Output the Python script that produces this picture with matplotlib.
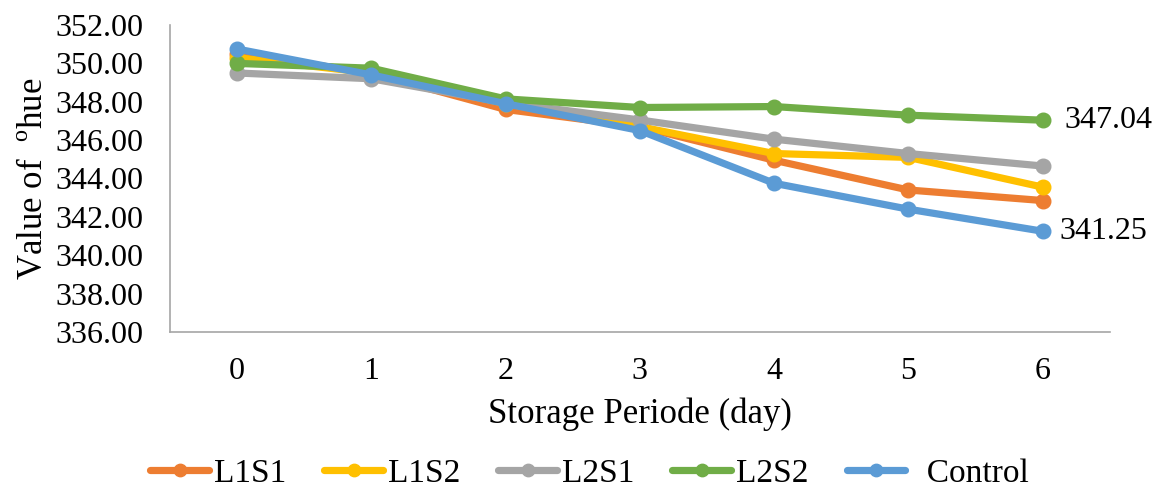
import matplotlib
matplotlib.use("Agg")
import matplotlib.pyplot as plt

plt.rcParams['font.family'] = ['Liberation Serif', 'DejaVu Serif']
plt.rcParams['mathtext.fontset'] = 'custom'
plt.rcParams['mathtext.rm'] = 'Liberation Serif'

days = [0, 1, 2, 3, 4, 5, 6]
l1s1 = [350.50, 349.50, 347.60, 346.70, 344.95, 343.40, 342.85]
l1s2 = [350.30, 349.50, 347.90, 346.70, 345.30, 345.10, 343.55]
l2s1 = [349.50, 349.20, 347.95, 347.05, 346.05, 345.30, 344.65]
l2s2 = [350.00, 349.75, 348.15, 347.70, 347.75, 347.30, 347.04]
control = [350.75, 349.40, 347.90, 346.50, 343.75, 342.40, 341.25]

series = [
    ("L1S1", l1s1, "#ED7D31"),
    ("L1S2", l1s2, "#FFC000"),
    ("L2S1", l2s1, "#A5A5A5"),
    ("L2S2", l2s2, "#70AD47"),
    ("  Control", control, "#5B9BD5"),
]

fig = plt.figure(figsize=(11.56, 4.91), dpi=100)
ax = fig.add_axes([0.147, 0.324, 0.813, 0.625])

for name, vals, col in series:
    ax.plot(days, vals, color=col, lw=5.2, marker='o', markersize=10.5,
            label=name, solid_capstyle='round')

ax.set_xlim(-0.5, 6.5)
ax.set_ylim(336, 352)
ax.set_yticks(range(336, 353, 2))
ax.set_yticklabels(["%.2f" % v for v in range(336, 353, 2)])
ax.set_xticks(days)
ax.tick_params(axis='both', length=0, labelsize=23)
ax.tick_params(axis='x', pad=18)
ax.tick_params(axis='y', pad=19)

for side in ['top', 'right']:
    ax.spines[side].set_visible(False)
for side in ['left', 'bottom']:
    ax.spines[side].set_color('#a6a6a6')
    ax.spines[side].set_linewidth(1.2)

ax.set_ylabel(r"Value of  $^{\mathrm{o}}$hue", fontsize=25, labelpad=4)
ax.set_xlabel("Storage Periode (day)", fontsize=25, labelpad=8)

# end-point labels
ax.annotate("%.2f" % l2s2[-1], (days[-1], l2s2[-1]), xytext=(16, 0),
            textcoords='offset points', fontsize=23, va='center')
ax.annotate("%.2f" % control[-1], (days[-1], control[-1]), xytext=(12, 0),
            textcoords='offset points', fontsize=23, va='center')

fig.legend(loc='center', bbox_to_anchor=(0.51, 0.035), ncol=5,
           frameon=False, fontsize=24, handlelength=1.75, columnspacing=1.15,
           handletextpad=0.15, markerscale=0.85)

fig.savefig("out.png", dpi=100)
